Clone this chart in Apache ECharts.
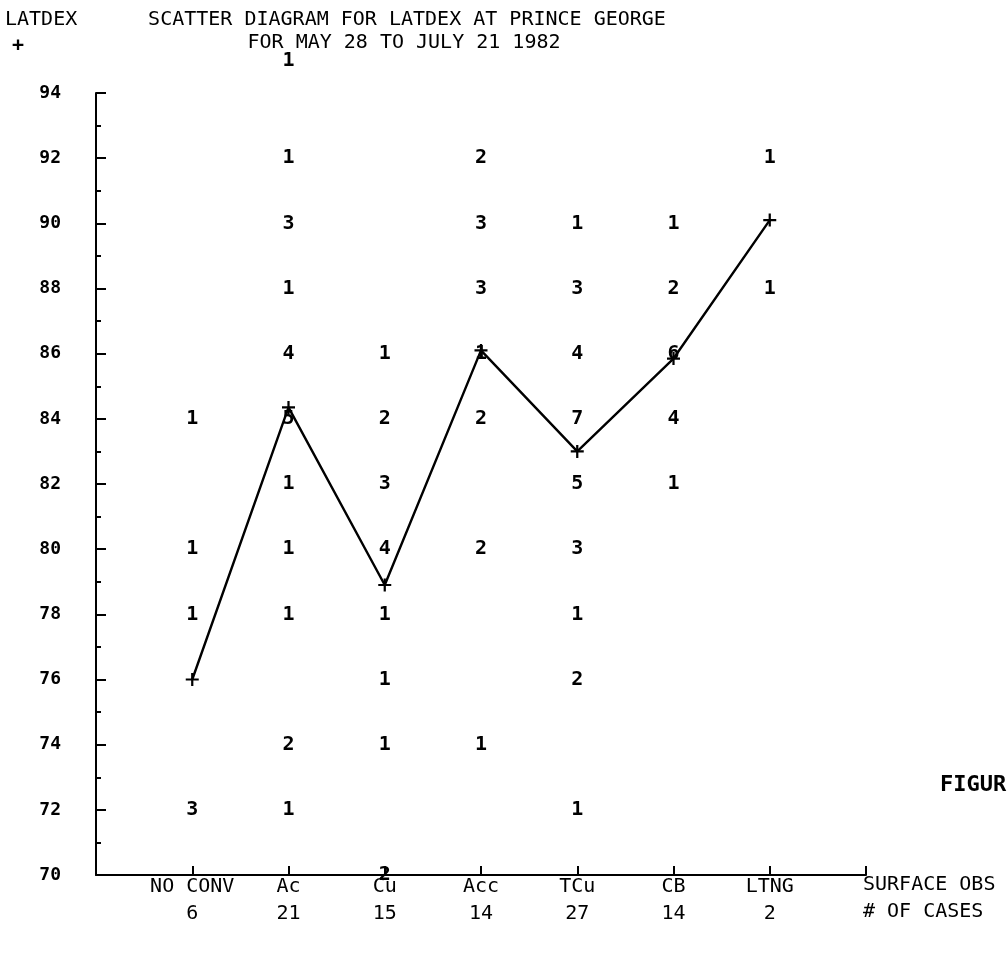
<!DOCTYPE html>
<html>
<head>
<meta charset="utf-8">
<script src="https://cdn.jsdelivr.net/npm/echarts@6/dist/echarts.min.js"></script>
<style>html,body{margin:0;padding:0;background:#fff;}#c{width:1008px;height:954px;}</style>
</head>
<body>
<div id="c"></div>
<script>
// ---- data ----
const categories = ['NO CONV', 'Ac', 'Cu', 'Acc', 'TCu', 'CB', 'LTNG'];
const cases = [6, 21, 15, 14, 27, 14, 2];
// [LATDEX value, number of cases] per surface observation class
const ptsNoConv = [[84, 1], [80, 1], [78, 1], [72, 3]];
const ptsAc = [[95, 1], [92, 1], [90, 3], [88, 1], [86, 4], [84, 5], [82, 1], [80, 1], [78, 1], [74, 2], [72, 1]];
const ptsCu = [[86, 1], [84, 2], [82, 3], [80, 4], [78, 1], [76, 1], [74, 1], [70, 2]];
const ptsAcc = [[92, 2], [90, 3], [88, 3], [86, 1], [84, 2], [80, 2], [74, 1]];
const ptsTCu = [[90, 1], [88, 3], [86, 4], [84, 7], [82, 5], [80, 3], [78, 1], [76, 2], [72, 1]];
const ptsCB = [[90, 1], [88, 2], [86, 6], [84, 4], [82, 1]];
const ptsLTNG = [[92, 1], [88, 1]];
// mean LATDEX ("+") per class
const meanLatdex = [76.0, 84.35, 78.9, 86.1, 83.0, 85.85, 90.1];

const yMin = 70, yMax = 94, yStep = 2;
const titleLine1 = 'SCATTER DIAGRAM FOR LATDEX AT PRINCE GEORGE';
const titleLine2 = 'FOR MAY 28 TO JULY 21 1982';
const yName = 'LATDEX';
const xName1 = 'SURFACE OBS';
const xName2 = '# OF CASES';

// ---- build ----
const groups = [ptsNoConv, ptsAc, ptsCu, ptsAcc, ptsTCu, ptsCB, ptsLTNG];
const scatterData = [];
groups.forEach((g, i) => g.forEach(p => scatterData.push([i + 1, p[0], p[1]])));
const lineData = meanLatdex.map((v, i) => [i + 1, v]);

const FONT = 'DejaVu Sans Mono';
const INK = '#000';

const chart = echarts.init(document.getElementById('c'), null, {renderer: 'canvas'});
chart.setOption({
  backgroundColor: '#fff',
  animation: false,
  grid: {left: 96, right: 142, top: 93, bottom: 79},
  xAxis: {
    type: 'value', min: 0, max: 8, interval: 1,
    axisLine: {show: true, onZero: false, lineStyle: {color: INK, width: 2}},
    axisTick: {show: true, inside: true, length: 9, lineStyle: {color: INK, width: 2}},
    splitLine: {show: false},
    axisLabel: {
      show: true, margin: -2, color: INK, fontFamily: FONT, fontSize: 20, lineHeight: 27,
      showMinLabel: true, showMaxLabel: true,
      formatter: v => (v >= 1 && v <= 7) ? categories[v - 1] + '\n' + cases[v - 1] : ''
    }
  },
  yAxis: {
    type: 'value', min: yMin, max: yMax, interval: yStep,
    axisLine: {show: true, onZero: false, lineStyle: {color: INK, width: 2}},
    axisTick: {show: true, inside: true, length: 10, lineStyle: {color: INK, width: 2}},
    minorTick: {show: true, splitNumber: 2, length: 5, lineStyle: {color: INK, width: 2}},
    splitLine: {show: false},
    axisLabel: {margin: 35, color: INK, fontFamily: FONT, fontSize: 18, fontWeight: 'bold'}
  },
  series: [
    {
      type: 'line', data: lineData, z: 2,
      symbol: 'path://M-1.2,-7H1.2V7H-1.2Z M-7,-1.2H7V1.2H-7Z', symbolSize: 13,
      itemStyle: {color: INK, opacity: 1}, lineStyle: {color: INK, width: 2.4}
    },
    {
      type: 'scatter', data: scatterData, z: 3, clip: false,
      symbolSize: 1, itemStyle: {color: 'rgba(0,0,0,0)', opacity: 1},
      label: {
        show: true, position: 'inside', color: INK, opacity: 1, textBorderWidth: 0,
        fontFamily: FONT, fontSize: 20, fontWeight: 'bold', formatter: p => String(p.value[2])
      }
    }
  ],
  graphic: [
    {type: 'text', style: {text: titleLine1, x: 407, y: 20, align: 'center', verticalAlign: 'middle', font: '20px "' + FONT + '"', fill: INK}},
    {type: 'text', style: {text: titleLine2, x: 404, y: 43, align: 'center', verticalAlign: 'middle', font: '20px "' + FONT + '"', fill: INK}},
    {type: 'text', style: {text: yName, x: 5, y: 20, align: 'left', verticalAlign: 'middle', font: '20px "' + FONT + '"', fill: INK}},
    {type: 'text', style: {text: '+', x: 18, y: 46, align: 'center', verticalAlign: 'middle', font: 'bold 20px "' + FONT + '"', fill: INK}},
    {type: 'text', style: {text: xName1, x: 863, y: 885, align: 'left', verticalAlign: 'middle', font: '20px "' + FONT + '"', fill: INK}},
    {type: 'text', style: {text: xName2, x: 863, y: 912, align: 'left', verticalAlign: 'middle', font: '20px "' + FONT + '"', fill: INK}},
    {type: 'text', style: {text: 'FIGURE', x: 940, y: 785, align: 'left', verticalAlign: 'middle', font: 'bold 22px "' + FONT + '"', fill: INK}}
  ]
});
</script>
</body>
</html>
